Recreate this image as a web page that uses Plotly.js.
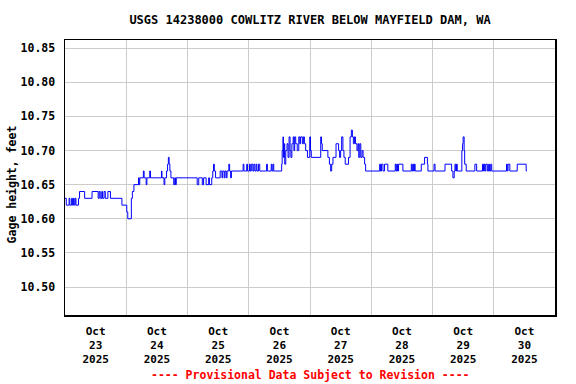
<!DOCTYPE html>
<html>
<head>
<meta charset="utf-8">
<script src="https://cdn.plot.ly/plotly-3.0.1.min.js"></script>
<style>html,body{margin:0;padding:0;background:#fff;}#chart{width:576px;height:384px;}</style>
</head>
<body>
<div id="chart"></div>
<script>
// Hours since 2025-10-23 00:00 at which the gage reading changes, and the reading (feet)
var changeHours = [
  0, 0.5, 1.6, 1.9, 2.6, 2.9, 3.3, 3.6, 4.0, 4.3, 5.3, 5.7, 7.7, 10.6, 13.0, 13.4, 13.8, 14.4, 14.7, 15.3,
  15.8, 16.8, 17.8, 22.3, 24.2, 24.6, 25.9, 26.0, 26.4, 27.0, 28.8, 29.0, 29.3, 30.7, 31.0, 31.8, 32.1, 33.2, 33.5, 37.8,
  38.0, 38.8, 39.1, 39.8, 40.2, 40.5, 40.8, 41.1, 41.5, 42.6, 43.0, 43.3, 43.6, 51.8, 52.4, 53.8, 54.3, 55.3, 56.3, 56.6,
  57.5, 57.9, 58.2, 58.5, 59.0, 60.8, 61.5, 61.8, 62.4, 62.7, 63.2, 63.5, 64.2, 64.5, 64.9, 65.2, 69.8, 70.1, 71.2, 71.5,
  72.3, 72.6, 73.0, 73.6, 74.0, 74.4, 74.9, 75.2, 75.8, 76.3, 79.0, 79.3, 80.8, 81.1, 81.5, 81.8, 84.9, 85.1, 85.4, 85.6,
  85.9, 86.1, 86.5, 87.0, 87.4, 87.8, 88.2, 88.5, 88.9, 89.4, 89.7, 90.0, 90.4, 91.0, 91.6, 92.0, 92.3, 93.0, 93.4, 93.8,
  94.3, 95.0, 95.9, 96.2, 96.5, 100.2, 100.5, 100.8, 103.0, 103.6, 104.1, 104.5, 105.0, 106.2, 107.2, 107.6, 108.0, 108.4, 108.9, 109.3,
  109.8, 111.1, 111.7, 112.2, 112.6, 113.0, 113.4, 113.8, 114.4, 114.8, 115.1, 115.5, 115.9, 116.4, 116.8, 117.4, 117.8, 123.3, 123.6, 124.0,
  124.6, 125.2, 126.5, 129.4, 129.7, 130.0, 130.3, 130.7, 132.4, 135.7, 136.0, 136.3, 136.6, 136.9, 137.2, 139.6, 140.9, 142.0, 142.2, 144.6,
  145.0, 148.9, 151.5, 152.0, 152.5, 152.8, 153.1, 153.4, 153.7, 155.5, 155.8, 156.0, 156.4, 156.6, 157.2, 160.6, 161.3, 163.6, 164.0, 164.3,
  164.6, 164.9, 165.5, 166.0, 166.3, 166.8, 167.2, 173.0, 173.3, 173.6, 174.3, 177.2, 180.7, 181.0
];
var gageHeight = [
  10.63, 10.62, 10.63, 10.62, 10.63, 10.62, 10.63, 10.62, 10.63, 10.62, 10.63, 10.64, 10.63, 10.64, 10.63, 10.64, 10.63, 10.64, 10.63, 10.64,
  10.63, 10.64, 10.63, 10.62, 10.61, 10.60, 10.60, 10.63, 10.64, 10.65, 10.66, 10.65, 10.66, 10.67, 10.66, 10.65, 10.66, 10.67, 10.66, 10.67,
  10.66, 10.65, 10.66, 10.67, 10.68, 10.69, 10.68, 10.67, 10.66, 10.65, 10.66, 10.65, 10.66, 10.65, 10.66, 10.65, 10.66, 10.65, 10.66, 10.65,
  10.66, 10.67, 10.68, 10.67, 10.66, 10.67, 10.66, 10.67, 10.66, 10.67, 10.66, 10.67, 10.68, 10.67, 10.66, 10.67, 10.68, 10.67, 10.68, 10.67,
  10.68, 10.67, 10.68, 10.67, 10.68, 10.67, 10.68, 10.67, 10.68, 10.67, 10.68, 10.67, 10.68, 10.67, 10.68, 10.67, 10.68, 10.70, 10.72, 10.69,
  10.71, 10.68, 10.70, 10.71, 10.69, 10.72, 10.70, 10.69, 10.71, 10.72, 10.70, 10.72, 10.71, 10.70, 10.72, 10.71, 10.72, 10.71, 10.72, 10.71,
  10.70, 10.69, 10.72, 10.70, 10.69, 10.72, 10.71, 10.70, 10.69, 10.68, 10.67, 10.68, 10.69, 10.71, 10.70, 10.69, 10.70, 10.72, 10.70, 10.69,
  10.68, 10.69, 10.72, 10.73, 10.72, 10.71, 10.72, 10.71, 10.70, 10.71, 10.69, 10.71, 10.69, 10.70, 10.69, 10.68, 10.67, 10.68, 10.67, 10.68,
  10.67, 10.68, 10.67, 10.68, 10.67, 10.68, 10.67, 10.68, 10.67, 10.68, 10.67, 10.68, 10.67, 10.68, 10.67, 10.68, 10.69, 10.68, 10.67, 10.68,
  10.67, 10.68, 10.67, 10.66, 10.67, 10.68, 10.67, 10.68, 10.67, 10.70, 10.71, 10.72, 10.70, 10.68, 10.67, 10.68, 10.67, 10.68, 10.67, 10.68,
  10.67, 10.68, 10.67, 10.68, 10.67, 10.68, 10.67, 10.68, 10.67, 10.68, 10.67, 10.68, 10.67, 10.67
];
var dayTickVals = ['2025-10-23 12:00','2025-10-24 12:00','2025-10-25 12:00','2025-10-26 12:00','2025-10-27 12:00','2025-10-28 12:00','2025-10-29 12:00','2025-10-30 12:00'];
var dayTickText = ['Oct<br>23<br>2025','Oct<br>24<br>2025','Oct<br>25<br>2025','Oct<br>26<br>2025','Oct<br>27<br>2025','Oct<br>28<br>2025','Oct<br>29<br>2025','Oct<br>30<br>2025'];
var yTickVals = [10.50, 10.55, 10.60, 10.65, 10.70, 10.75, 10.80, 10.85];
var chartTitle = 'USGS 14238000 COWLITZ RIVER BELOW MAYFIELD DAM, WA';
var yTitle = 'Gage height, feet';
var footNote = '---- Provisional Data Subject to Revision ----';

var base = Date.UTC(2025, 9, 23, 0, 0, 0);
function toStamp(h) {
  return new Date(base + Math.round(h * 3600000)).toISOString().slice(0, 19).replace('T', ' ');
}
var xs = changeHours.map(toStamp);

var fam = 'DejaVu Sans Mono, monospace';
var font = {family: fam, size: 11.5, color: '#000', weight: 'bold'};
var xfont = {family: fam, size: 11, color: '#000', weight: 'bold'};

Plotly.newPlot('chart', [{
  x: xs, y: gageHeight, type: 'scatter', mode: 'lines',
  line: {color: '#0000ff', width: 1, shape: 'hv'},
  hoverinfo: 'skip'
}], {
  width: 576, height: 384,
  margin: {l: 65, r: 21, t: 40, b: 68.5, pad: 0},
  paper_bgcolor: '#fff', plot_bgcolor: '#fff',
  showlegend: false,
  font: font,
  title: {text: chartTitle, font: {family: fam, size: 12, color: '#000', weight: 'bold'},
          x: 0.5, xref: 'paper', xanchor: 'center', y: 1 - 20/384, yref: 'container', yanchor: 'middle'},
  xaxis: {
    type: 'date', range: ['2025-10-23 00:00', '2025-10-31 00:00'],
    tickmode: 'array', tickvals: dayTickVals, ticktext: dayTickText,
    ticks: '', showgrid: false, zeroline: false,
    showline: true, mirror: true, linecolor: '#000', linewidth: 1.5,
    ticklabelstandoff: 5,
    tickfont: xfont,
    minor: {tick0: '2025-10-23', dtick: 86400000, showgrid: true, gridcolor: '#cccccc', gridwidth: 1, ticks: ''}
  },
  yaxis: {
    range: [10.459, 10.862],
    tickmode: 'array', tickvals: yTickVals, tickformat: '.2f',
    ticks: '', showgrid: true, gridcolor: '#cccccc', gridwidth: 1, zeroline: false,
    showline: true, mirror: true, linecolor: '#000', linewidth: 1.5,
    ticklabelstandoff: 6,
    tickfont: font
  },
  annotations: [
    {text: yTitle, xref: 'paper', yref: 'paper', x: -53/490, y: 0.475, xanchor: 'center', yanchor: 'middle',
     textangle: -90, showarrow: false, font: font},
    {text: footNote, xref: 'paper', yref: 'paper', x: 0.5, y: -(376 - 315.5)/275.5, xanchor: 'center', yanchor: 'middle',
     showarrow: false, font: {family: fam, size: 11.5, color: '#ff0000', weight: 'bold'}}
  ]
}, {staticPlot: true, displayModeBar: false});
</script>
</body>
</html>
